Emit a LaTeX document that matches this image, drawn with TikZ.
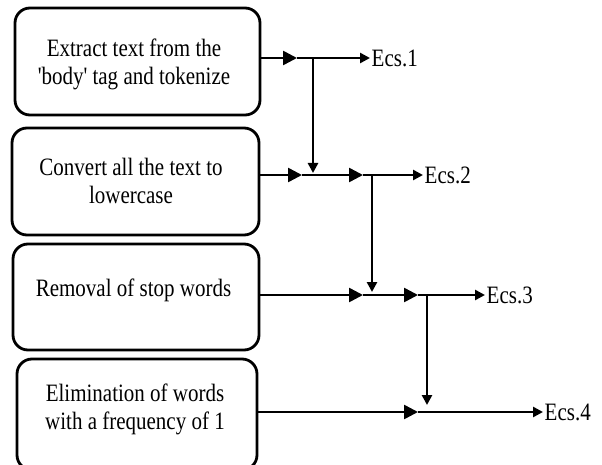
\documentclass[tikz,border=0pt]{standalone}
\usepackage{fontspec}
\newfontfamily\figfont{Liberation Serif}[FakeStretch=0.84]
\usetikzlibrary{arrows.meta}
\tikzset{
  boxshape/.style={draw, line width=2.8pt, rounded corners=15pt, inner sep=0pt},
  txt/.style={align=center, inner sep=0pt, font=\figfont\fontsize{25}{28}\selectfont},
  lbl/.style={anchor=west, inner sep=1.5pt, font=\figfont\fontsize{25}{27}\selectfont},
  conn/.style={line width=2.6pt},
  midarr/.style={conn, -{Triangle[length=14pt,width=14pt]}},
  endarr/.style={conn, -{Triangle[length=10pt,width=10pt]}},
}
\begin{document}
\begin{tikzpicture}[x=1pt,y=-1pt]
\useasboundingbox (0,0) rectangle (602,465);
% boxes
\node[boxshape, minimum width=245pt, minimum height=107pt] (b1) at (137.5,61.5) {};
\node[boxshape, minimum width=247pt, minimum height=107pt] (b2) at (135.5,181.5) {};
\node[boxshape, minimum width=246pt, minimum height=106pt] (b3) at (136,297) {};
\node[boxshape, minimum width=240pt, minimum height=111pt] (b4) at (137,414.5) {};
% texts
\node[txt] (t1) at (134,64) {Extract text from the\\'body' tag and tokenize};
\node[txt] (t2) at (131,181) {Convert all the text to\\lowercase};
\node[txt] (t3) at (133.5,290) {Removal of stop words};
\node[txt] (t4) at (135,409.5) {Elimination of words\\with a frequency of 1};
% line start points
\coordinate (s1) at (b1.east |- {(0,58)});
\coordinate (s2) at (b2.east |- {(0,175)});
\coordinate (s3) at (b3.east |- {(0,295)});
\coordinate (s4) at (b4.east |- {(0,412)});
% mid arrow tips
\coordinate (m1) at (297,58);
\coordinate (m2a) at (302,175);
\coordinate (m2b) at (363,175);
\coordinate (m3a) at (363,295);
\coordinate (m3b) at (418,295);
\coordinate (m4) at (418,412);
% end tips
\coordinate (e1) at (370,58);
\coordinate (e2) at (423,175);
\coordinate (e3) at (485,295);
\coordinate (e4) at (543,412);
% vertical branches
\coordinate (j1) at (313,58);  \coordinate (k1) at (313,173);
\coordinate (j2) at (372,175); \coordinate (k2) at (372,292);
\coordinate (j3) at (427,295); \coordinate (k3) at (427,405);
% labels
\node[lbl] (l1) at (e1) {Ecs.1};
\node[lbl] (l2) at (e2) {Ecs.2};
\node[lbl] (l3) at (e3) {Ecs.3};
\node[lbl] (l4) at (e4) {Ecs.4};
% row 1
\draw[midarr] (s1) -- (m1);
\draw[endarr] (m1) -- (e1);
\draw[endarr] (j1) -- (k1);
% row 2
\draw[midarr] (s2) -- (m2a);
\draw[midarr] (m2a) -- (m2b);
\draw[endarr] (m2b) -- (e2);
\draw[endarr] (j2) -- (k2);
% row 3
\draw[midarr] (s3) -- (m3a);
\draw[midarr] (m3a) -- (m3b);
\draw[endarr] (m3b) -- (e3);
\draw[endarr] (j3) -- (k3);
% row 4
\draw[midarr] (s4) -- (m4);
\draw[endarr] (m4) -- (e4);
\end{tikzpicture}
\end{document}
